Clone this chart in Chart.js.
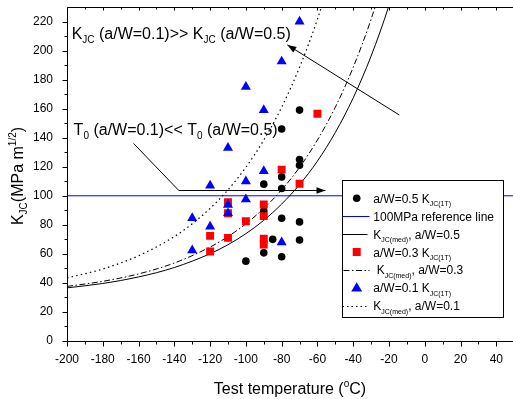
<!DOCTYPE html>
<html><head><meta charset="utf-8">
<script src="https://cdn.jsdelivr.net/npm/chart.js@4"></script>
<style>
html,body{margin:0;padding:0;background:#fff;overflow:hidden;width:513px;height:399px}
#wrap{position:absolute;left:0;top:0;width:520px;height:399px}
</style>
</head><body><div id="wrap"><canvas id="c" width="520" height="399"></canvas></div>
<script>
// ---- data ----
const xTickLabels = [-200,-180,-160,-140,-120,-100,-80,-60,-40,-20,0,20,40];
const yTickLabels = [0,20,40,60,80,100,120,140,160,180,200,220];

// Master-curve K_JC(med) lines
const curveTemps = [-200,-180,-160,-140,-120,-110,-100,-90,-80,-70,-60,-50,-40,-30,-20,-10];
const kMed05 = [36.6,39.6,44.1,50.6,60.1,66.3,73.9,83.1,94.3,107.7,123.9,143.6,167.4,196.2,231.0,273.0];
const kMed03 = [37.6,41.1,46.2,53.7,64.7,71.9,80.7,91.3,104.1,119.6,138.4,161.0,188.5,221.6,261.7,310.0];
const curveTemps01 = [-200,-180,-160,-140,-130,-120,-110,-100,-90,-80,-70,-60,-50];
const kMed01 = [43.4,49.6,58.7,71.9,80.7,91.3,104.1,119.6,138.4,161.0,188.5,221.6,261.7];

// 100 MPa reference line
const refTemps = [-200,50];
const refK = [100,100];

// a/W = 0.5 K_JC(1T)
const a05Temps = [-100,-90,-90,-90,-85,-80,-80,-80,-80,-80,-70,-70,-70,-70,-70];
const a05K     = [55,108,89.5,60.7,70,146,113,105,84.5,58,159,125,121,82,69.5];
// a/W = 0.3 K_JC(1T)
const a03Temps = [-120,-120,-110,-110,-110,-100,-90,-90,-90,-90,-80,-70,-60];
const a03K     = [72.4,61.6,95.5,88,71,82.5,94,86,70.5,66.5,118,108.3,156.5];
// a/W = 0.1 K_JC(1T)
const a01Temps = [-130,-130,-120,-120,-110,-110,-110,-100,-100,-100,-90,-90,-80,-80,-70];
const a01K     = [84.7,62.5,107,78.8,133,93.8,88,175,110,97.5,159,117,192.5,68,220];

const xMin = -200, xMax = 50, yMin = 0, yMax = 230;

function pts(xs, ys){ return xs.map((x,i)=>({x:x, y:ys[i]})); }

const FONT = '"Liberation Sans", Arial, Helvetica, sans-serif';

function richWidth(ctx, parts, size){
  let w = 0;
  for (const [t,k] of parts){
    const s = (k==='n') ? size : Math.round(size*0.62);
    ctx.font = s + 'px ' + FONT;
    w += ctx.measureText(t).width;
  }
  return w;
}
function rich(ctx, x, y, parts, size){
  ctx.textBaseline = 'alphabetic';
  ctx.textAlign = 'left';
  let cx = x;
  for (const [t,k] of parts){
    let s = size, dy = 0;
    if (k==='sub'){ s = Math.round(size*0.62); dy = size*0.28; }
    if (k==='sup'){ s = Math.round(size*0.62); dy = -size*0.42; }
    ctx.font = s + 'px ' + FONT;
    ctx.fillText(t, cx, y+dy);
    cx += ctx.measureText(t).width;
  }
  return cx - x;
}
function arrowHead(ctx, x1,y1,x2,y2){
  const a = Math.atan2(y2-y1, x2-x1), L = 9, H = 3.2;
  ctx.beginPath();
  ctx.moveTo(x2,y2);
  ctx.lineTo(x2 - L*Math.cos(a) + H*Math.sin(a), y2 - L*Math.sin(a) - H*Math.cos(a));
  ctx.lineTo(x2 - L*Math.cos(a) - H*Math.sin(a), y2 - L*Math.sin(a) + H*Math.cos(a));
  ctx.closePath(); ctx.fill();
}

// annotation anchors in data units
const ann1Text = {t:-197.4, k:208.0};
const ann1Line = [{t:-14.2,k:155.6},{t:-76.8,k:203.9}];
const ann2Text = {t:-196.3, k:141.9};
const ann2Line = [{t:-162.75,k:136.4},{t:-137.5,k:104.0},{t:-55.5,k:104.0}];

const decor = {
  id:'decor',
  afterDraw(chart){
    const ctx = chart.ctx, xs = chart.scales.x, ys = chart.scales.y, ca = chart.chartArea;
    ctx.save();
    ctx.strokeStyle = '#000'; ctx.fillStyle = '#000'; ctx.lineWidth = 1;
    const L0 = Math.round(ca.left)+0.5, T0 = Math.round(ca.top)+0.5, B0 = Math.round(ca.bottom)+0.5;
    // frame: left, bottom, top
    ctx.beginPath();
    ctx.moveTo(ca.right+2, T0); ctx.lineTo(L0, T0);
    ctx.lineTo(L0, B0); ctx.lineTo(ca.right+2, B0);
    ctx.stroke();
    // ticks
    ctx.beginPath();
    for (let v = yMin; v <= 220; v += 10){
      const py = Math.round(ys.getPixelForValue(v))+0.5;
      const L = (v % 20 === 0) ? 5 : 3;
      ctx.moveTo(L0, py); ctx.lineTo(L0-L, py);
    }
    for (let v = xMin; v <= xMax; v += 10){
      const px = Math.round(xs.getPixelForValue(v))+0.5;
      const L = (v % 20 === 0) ? 5 : 3;
      ctx.moveTo(px, B0); ctx.lineTo(px, B0+L);
      const Lt = (v % 20 === 0) ? 3 : 2;
      ctx.moveTo(px, T0); ctx.lineTo(px, T0+Lt);
    }
    ctx.stroke();

    // axis titles
    const xt = [['Test temperature (','n'],['o','sup'],['C)','n']];
    const xw = richWidth(ctx, xt, 16);
    rich(ctx, 290 - xw/2, 394, xt, 16);
    const yt = [['K','n'],['JC','sub'],['(MPa m','n'],['1/2','sup'],[')','n']];
    const yw = richWidth(ctx, yt, 16);
    ctx.save(); ctx.translate(23, 176); ctx.rotate(-Math.PI/2);
    rich(ctx, -yw/2, 0, yt, 16);
    ctx.restore();

    // annotations
    rich(ctx, xs.getPixelForValue(ann1Text.t), ys.getPixelForValue(ann1Text.k),
      [['K','n'],['JC','sub'],[' (a/W=0.1)>> K','n'],['JC','sub'],[' (a/W=0.5)','n']], 16);
    rich(ctx, xs.getPixelForValue(ann2Text.t), ys.getPixelForValue(ann2Text.k),
      [['T','n'],['0','sub'],[' (a/W=0.1)<< T','n'],['0','sub'],[' (a/W=0.5)','n']], 16);
    ctx.lineWidth = 1;
    let p = ann1Line.map(q=>[xs.getPixelForValue(q.t), ys.getPixelForValue(q.k)]);
    ctx.beginPath(); ctx.moveTo(p[0][0],p[0][1]); ctx.lineTo(p[1][0],p[1][1]); ctx.stroke();
    arrowHead(ctx, p[0][0],p[0][1],p[1][0],p[1][1]);
    p = ann2Line.map(q=>[xs.getPixelForValue(q.t), Math.round(ys.getPixelForValue(q.k))+0.5]);
    ctx.beginPath(); ctx.moveTo(p[0][0],p[0][1]); ctx.lineTo(p[1][0],p[1][1]); ctx.lineTo(p[2][0],p[2][1]); ctx.stroke();
    arrowHead(ctx, p[1][0],p[1][1],p[2][0],p[2][1]);

    // legend box
    const bx = 342.5, by = 180.5, bw = 161, bh = 137;
    ctx.fillStyle = '#fff'; ctx.fillRect(bx, by, bw, bh);
    ctx.strokeStyle = '#000'; ctx.strokeRect(bx, by, bw, bh);
    const sx = 356.7, tx = 373.3, l0 = 342.5, l1 = 369.5;
    const rowY = i => 198.3 + i*17.9;
    const sub = 'sub';
    ctx.fillStyle = '#000';
    let y = rowY(0);
    ctx.beginPath(); ctx.arc(sx, y, 3.8, 0, Math.PI*2); ctx.fill();
    rich(ctx, tx, y+4.5, [['a/W=0.5 K','n'],['JC(1T)',sub]], 12);
    y = Math.round(rowY(1))+0.5;
    ctx.strokeStyle = '#0000ff'; ctx.beginPath(); ctx.moveTo(l0,y); ctx.lineTo(l1,y); ctx.stroke();
    rich(ctx, tx, rowY(1)+4.5, [['100MPa reference line','n']], 12);
    y = Math.round(rowY(2))+0.5;
    ctx.strokeStyle = '#000'; ctx.beginPath(); ctx.moveTo(l0,y); ctx.lineTo(l1-2,y); ctx.stroke();
    rich(ctx, tx, rowY(2)+4.5, [['K','n'],['JC(med)',sub],[', a/W=0.5','n']], 12);
    y = rowY(3);
    ctx.fillStyle = '#ff0000'; ctx.fillRect(sx-4, y-4, 8, 8);
    ctx.fillStyle = '#000';
    rich(ctx, tx, y+4.5, [['a/W=0.3 K','n'],['JC(1T)',sub]], 12);
    y = Math.round(rowY(4))+0.5;
    ctx.setLineDash([6,2.5,1.5,2.5]); ctx.beginPath(); ctx.moveTo(l0+1,y); ctx.lineTo(l1,y); ctx.stroke();
    ctx.setLineDash([]);
    rich(ctx, tx, rowY(4)+4.5, [[' K','n'],['JC(med)',sub],[', a/W=0.3','n']], 12);
    y = rowY(5);
    ctx.fillStyle = '#0000ff';
    ctx.beginPath(); ctx.moveTo(sx, y-5.5); ctx.lineTo(sx+5.5, y+3.8); ctx.lineTo(sx-5.5, y+3.8); ctx.closePath(); ctx.fill();
    ctx.fillStyle = '#000';
    rich(ctx, tx, y+4.5, [['a/W=0.1 K','n'],['JC(1T)',sub]], 12);
    y = Math.round(rowY(6))+0.5;
    ctx.setLineDash([1.5,3]); ctx.beginPath(); ctx.moveTo(l0,y); ctx.lineTo(l1,y); ctx.stroke();
    ctx.setLineDash([]);
    rich(ctx, tx, rowY(6)+4.5, [['K','n'],['JC(med)',sub],[', a/W=0.1','n']], 12);
    ctx.restore();
  }
};

const chart = new Chart(document.getElementById('c'), {
  type: 'scatter',
  data: {
    datasets: [
      {label:'a/W=0.1 K_JC(1T)', data: pts(a01Temps, a01K), pointStyle:'triangle', pointRadius:5.8,
       backgroundColor:'#0000ff', borderColor:'#0000ff', borderWidth:0, order:1},
      {label:'a/W=0.3 K_JC(1T)', data: pts(a03Temps, a03K), pointStyle:'rect', pointRadius:5.6,
       backgroundColor:'#ff0000', borderColor:'#ff0000', borderWidth:0, order:2},
      {label:'a/W=0.5 K_JC(1T)', data: pts(a05Temps, a05K), pointStyle:'circle', pointRadius:3.8,
       backgroundColor:'#000', borderColor:'#000', borderWidth:0, order:3},
      {label:'K_JC(med), a/W=0.1', data: pts(curveTemps01, kMed01), showLine:true, pointRadius:0,
       borderColor:'#000', borderWidth:1.2, borderDash:[1.5,3.2], cubicInterpolationMode:'monotone', order:4},
      {label:'K_JC(med), a/W=0.3', data: pts(curveTemps, kMed03), showLine:true, pointRadius:0,
       borderColor:'#000', borderWidth:1, borderDash:[6,2.5,1.5,2.5], cubicInterpolationMode:'monotone', order:5},
      {label:'K_JC(med), a/W=0.5', data: pts(curveTemps, kMed05), showLine:true, pointRadius:0,
       borderColor:'#000', borderWidth:1, cubicInterpolationMode:'monotone', order:6},
      {label:'100MPa reference line', data: pts(refTemps, refK), showLine:true, pointRadius:0,
       borderColor:'#0000ff', borderWidth:1, order:7}
    ]
  },
  options: {
    responsive:false, animation:false, devicePixelRatio:1,
    layout:{padding:{top:7, right:0, left:0, bottom:0}},
    plugins:{legend:{display:false}, tooltip:{enabled:false}},
    scales:{
      x:{type:'linear', min:xMin, max:xMax,
         grid:{display:false}, border:{display:false},
         afterFit(s){ s.height = 58; s.paddingLeft = 0; s.paddingRight = 0; },
         afterBuildTicks(s){ s.ticks = xTickLabels.map(v=>({value:v})); },
         ticks:{color:'#000', font:{family:FONT, size:12}, padding:3, maxRotation:0, autoSkip:false}},
      y:{type:'linear', min:yMin, max:yMax,
         grid:{display:false}, border:{display:false},
         afterFit(s){ s.width = 67; s.paddingTop = 0; s.paddingBottom = 0; },
         afterBuildTicks(s){ s.ticks = yTickLabels.map(v=>({value:v})); },
         ticks:{color:'#000', font:{family:FONT, size:12}, padding:6, autoSkip:false}}
    }
  },
  plugins:[decor]
});
</script>
</body></html>
